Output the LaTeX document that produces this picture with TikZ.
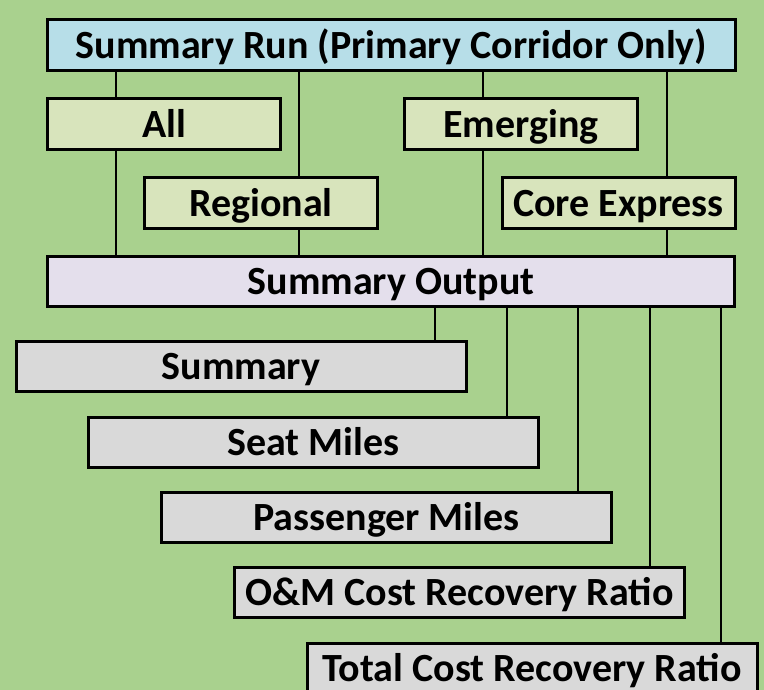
\documentclass[tikz,border=0pt]{standalone}
\usepackage{fontspec}
\setmainfont{Carlito}
\definecolor{bggreen}{HTML}{A9D18E}
\definecolor{topblue}{HTML}{B7DEE8}
\definecolor{palegreen}{HTML}{D8E4BC}
\definecolor{lavender}{HTML}{E4DFEC}
\definecolor{lightgray}{HTML}{D9D9D9}
\tikzset{
  box/.style={draw=black, line width=3pt, inner sep=0pt, text height=26.5pt, text depth=0pt, font=\fontsize{40}{48}\selectfont\bfseries, text=black},
  bluebox/.style={box, fill=topblue, minimum width=688pt, minimum height=51pt},
  greenbox/.style={box, fill=palegreen, minimum width=233pt, minimum height=51pt},
  outbox/.style={box, fill=lavender, minimum width=687pt, minimum height=50pt},
  graybox/.style={box, fill=lightgray, minimum width=450pt, minimum height=50pt},
  conn/.style={draw=black, line width=2.5pt}
}
\begin{document}
\begin{tikzpicture}[x=1pt,y=-1pt]
\fill[bggreen] (0,0) rectangle (764,690);
\useasboundingbox (0,0) rectangle (764,690);
\node[bluebox] (top) at (391.5,45) {Summary Run (Primary Corridor Only)};
\node[greenbox] (all) at (164,124) {All};
\node[greenbox] (emg) at (521,124) {Emerging};
\node[greenbox] (reg) at (261,203.5) {Regional};
\node[greenbox] (core) at (618.5,203.5) {Core Express};
\node[outbox] (so) at (391,281.5) {Summary Output};
\node[graybox] (sum) at (241,366.5) {Summary};
\node[graybox] (seat) at (313.5,442) {Seat Miles};
\node[graybox] (pass) at (386.5,517.5) {Passenger Miles};
\node[graybox] (om) at (459.5,592.5) {O\&M Cost Recovery Ratio};
\node[graybox] (tot) at (532,668.5) {Total Cost Recovery Ratio};
% upper connectors
\draw[conn] ([xshift=-48pt]all.north) -- ([xshift=-48pt]all.north |- top.south);
\draw[conn] ([xshift=-48pt]all.south) -- ([xshift=-48pt]all.south |- so.north);
\draw[conn] ([xshift=38pt]reg.north) -- ([xshift=38pt]reg.north |- top.south);
\draw[conn] ([xshift=38pt]reg.south) -- ([xshift=38pt]reg.south |- so.north);
\draw[conn] ([xshift=-38pt]emg.north) -- ([xshift=-38pt]emg.north |- top.south);
\draw[conn] ([xshift=-38pt]emg.south) -- ([xshift=-38pt]emg.south |- so.north);
\draw[conn] ([xshift=48.5pt]core.north) -- ([xshift=48.5pt]core.north |- top.south);
\draw[conn] ([xshift=48.5pt]core.south) -- ([xshift=48.5pt]core.south |- so.north);
% lower connectors
\draw[conn] ([xshift=44pt]so.south) -- ([xshift=44pt]so.south |- sum.north);
\draw[conn] ([xshift=116pt]so.south) -- ([xshift=116pt]so.south |- seat.north);
\draw[conn] ([xshift=187pt]so.south) -- ([xshift=187pt]so.south |- pass.north);
\draw[conn] ([xshift=259pt]so.south) -- ([xshift=259pt]so.south |- om.north);
\draw[conn] ([xshift=330pt]so.south) -- ([xshift=330pt]so.south |- tot.north);
\end{tikzpicture}
\end{document}
